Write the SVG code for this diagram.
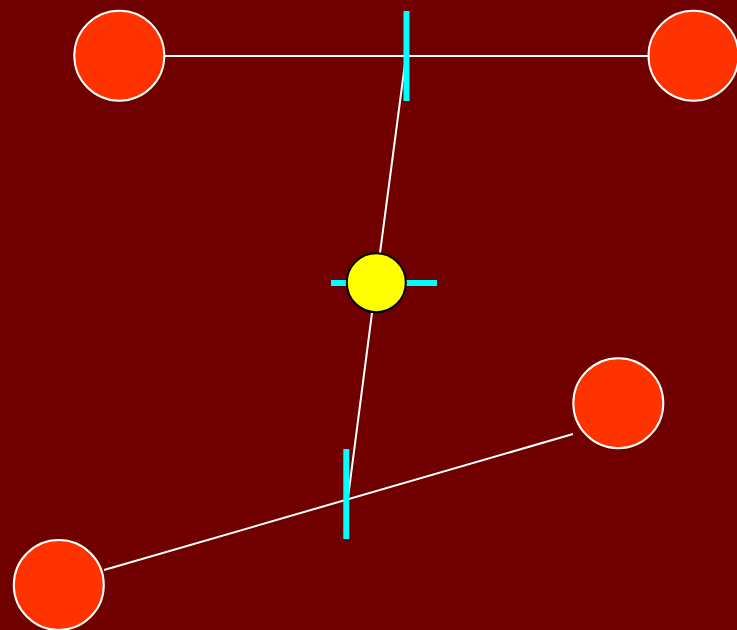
<svg xmlns="http://www.w3.org/2000/svg" width="737" height="630" viewBox="0 0 737 630">
<style>
.node{fill:#ff3300;stroke:#ffffff;stroke-width:2}
.hub{fill:#ffff00;stroke:#000000;stroke-width:2}
.edge{stroke:#ffffff;stroke-width:2;fill:none}
.bar{stroke:#00ffff;stroke-width:6;fill:none}
</style>
<rect x="0" y="0" width="737" height="630" fill="#700000"/>
<g id="connectors">
<line class="edge" x1="164" y1="56" x2="649" y2="56"/>
<line class="edge" x1="406" y1="56" x2="380" y2="253"/>
<line class="edge" x1="372" y1="313" x2="346.5" y2="509"/>
<line class="edge" x1="104" y1="570" x2="573" y2="434"/>
</g>
<g id="bars">
<line class="bar" x1="406.5" y1="11" x2="406.5" y2="101"/>
<line class="bar" x1="346.3" y1="449" x2="346.3" y2="539"/>
<line class="bar" x1="331" y1="283" x2="437" y2="283"/>
</g>
<g id="n1"><circle class="node" cx="119.3" cy="55.7" r="45"/></g>
<g id="n2"><circle class="node" cx="693.5" cy="55.7" r="45"/></g>
<g id="n3"><circle class="node" cx="618.3" cy="403.2" r="45"/></g>
<g id="n4"><circle class="node" cx="58.8" cy="585" r="45"/></g>
<g id="hub"><circle class="hub" cx="376.3" cy="282.7" r="29.5"/></g>
</svg>
